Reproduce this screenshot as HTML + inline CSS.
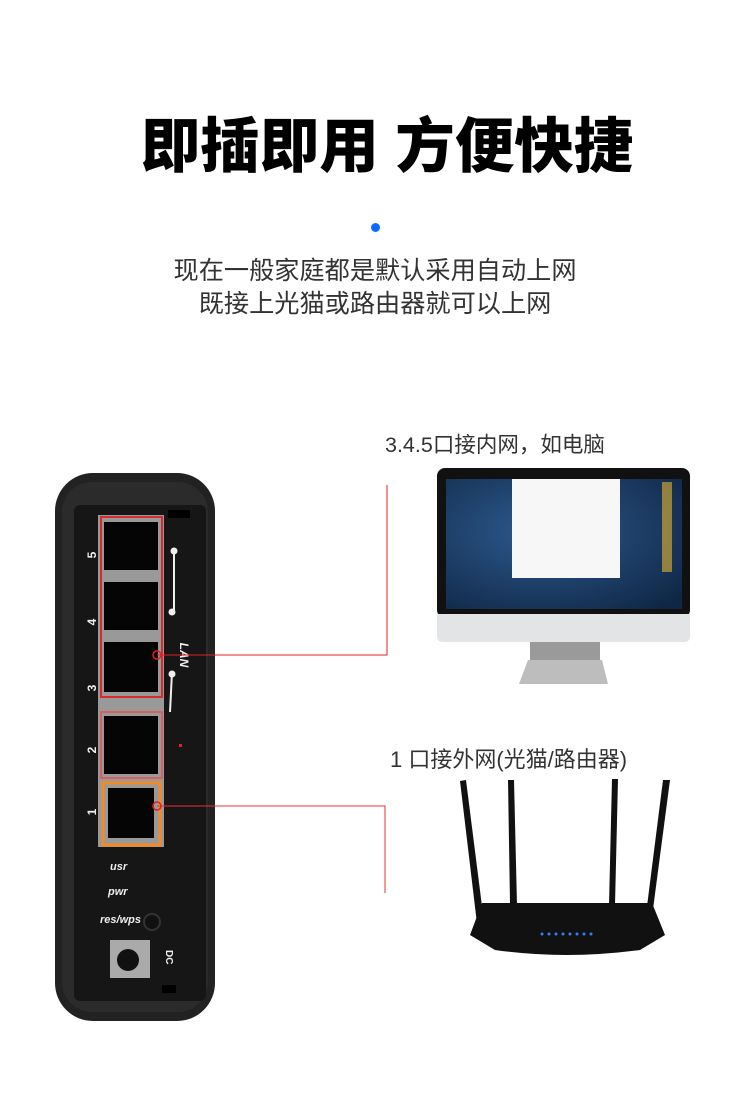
<!DOCTYPE html>
<html><head><meta charset="utf-8"><style>
body{margin:0;width:750px;height:1104px;background:#fff;position:relative;overflow:hidden;font-family:"Liberation Sans","Noto Sans CJK SC",sans-serif}
.a{position:absolute}
.t{white-space:nowrap}
</style></head><body>
<div class="a t" style="left:12px;width:750px;top:109px;text-align:center;font-size:59.5px;font-weight:900;color:#000;line-height:76px">即插即用 方便快捷</div>
<div class="a" style="left:371px;top:223px;width:9px;height:9px;border-radius:50%;background:#0a6cff"></div>
<div class="a t" style="left:0;width:750px;top:255px;text-align:center;font-size:25.2px;color:#333;line-height:33px">现在一般家庭都是默认采用自动上网<br>既接上光猫或路由器就可以上网</div>
<div class="a t" style="left:385px;top:428px;font-size:21.5px;color:#333">3.4.5口接内网，如电脑</div>
<div class="a t" style="left:390px;top:742px;font-size:22px;color:#333">1 口接外网(光猫/路由器)</div>

<svg class="a" style="left:0;top:0" width="750" height="1104">
<defs><radialGradient id="sc" cx="0.4" cy="0.4" r="0.8"><stop offset="0" stop-color="#2d5a8e"/><stop offset="1" stop-color="#0f2644"/></radialGradient></defs>
<rect x="55" y="473" width="160" height="548" rx="38" fill="#222"/>
<rect x="62" y="482" width="146" height="530" rx="30" fill="#2b2b2b"/>
<rect x="74" y="505" width="132" height="496" rx="6" fill="#161616"/>
<rect x="168" y="510" width="22" height="8" fill="#000"/>
<rect x="98" y="515" width="66" height="332" fill="#999"/>
<rect x="104" y="522" width="54" height="48" fill="#050505"/>
<rect x="104" y="582" width="54" height="48" fill="#050505"/>
<rect x="104" y="642" width="54" height="50" fill="#050505"/>
<rect x="104" y="716" width="54" height="58" fill="#050505"/>
<rect x="108" y="788" width="46" height="50" fill="#050505"/>
<rect x="101" y="517" width="61" height="180" fill="none" stroke="#d92b2b" stroke-width="2"/>
<rect x="101" y="712" width="61" height="66" fill="none" stroke="#d96060" stroke-width="2"/>
<rect x="103" y="783" width="57" height="62" fill="none" stroke="#f58a25" stroke-width="3"/>
<g fill="#eee" font-size="12" font-weight="bold" font-family="Liberation Sans">
<text transform="translate(96,555) rotate(-90)" text-anchor="middle">5</text>
<text transform="translate(96,622) rotate(-90)" text-anchor="middle">4</text>
<text transform="translate(96,688) rotate(-90)" text-anchor="middle">3</text>
<text transform="translate(96,750) rotate(-90)" text-anchor="middle">2</text>
<text transform="translate(96,812) rotate(-90)" text-anchor="middle">1</text>
<text transform="translate(180,655) rotate(90)" text-anchor="middle" font-style="italic">LAN</text>
<text x="110" y="870" font-size="11" font-style="italic">usr</text>
<text x="108" y="895" font-size="11" font-style="italic">pwr</text>
<text x="100" y="923" font-size="11" font-style="italic">res/wps</text>
<text transform="translate(166,950) rotate(90)" font-size="10">DC</text>
</g>
<line x1="174" y1="551" x2="174" y2="614" stroke="#eee" stroke-width="2"/>
<circle cx="174" cy="551" r="3.5" fill="#eee"/><circle cx="172" cy="612" r="3.5" fill="#eee"/>
<line x1="172" y1="672" x2="170" y2="712" stroke="#eee" stroke-width="2"/>
<circle cx="172" cy="674" r="3.5" fill="#eee"/>
<circle cx="152" cy="922" r="8" fill="#111" stroke="#333" stroke-width="2"/>
<rect x="110" y="940" width="40" height="38" fill="#aaa"/>
<circle cx="128" cy="960" r="11" fill="#111"/>
<rect x="162" y="985" width="14" height="8" fill="#000"/>
<polyline points="157,655 387,655 387,485" fill="none" stroke="#e02020" stroke-width="1"/>
<circle cx="157" cy="655" r="4" fill="none" stroke="#e02020" stroke-width="1.5"/>
<polyline points="157,806 385,806 385,893" fill="none" stroke="#e83030" stroke-width="1"/>
<circle cx="157" cy="806" r="4" fill="none" stroke="#e02020" stroke-width="1.5"/>
<rect x="179" y="744" width="3" height="3" fill="#e02020"/>
<rect x="437" y="468" width="253" height="150" rx="8" fill="#111"/>
<rect x="446" y="479" width="236" height="130" fill="url(#sc)"/>
<rect x="512" y="479" width="108" height="99" fill="#f7f7f7"/>
<rect x="662" y="482" width="10" height="90" fill="#e8b530" opacity="0.6"/>
<path d="M437 614 H690 V636 Q690 642 684 642 H443 Q437 642 437 636Z" fill="#e3e4e6"/>
<rect x="530" y="642" width="70" height="20" fill="#9a9a9a"/>
<path d="M528 660 H602 L608 684 H519Z" fill="#bdbdbd"/>
<g fill="#111">
<path d="M460 781 L466 780 L485 930 L478 932Z"/>
<path d="M508 780 L514 780 L517 905 L510 905Z"/>
<path d="M612 779 L618 779 L615 905 L609 905Z"/>
<path d="M663 780 L670 780 L650 932 L644 930Z"/>
<path d="M482 903 L652 903 L665 935 L640 950 Q565 960 495 950 L470 935Z"/>
</g>
<g fill="#3b7cff"><circle cx="542" cy="934" r="1.5"/><circle cx="549" cy="934" r="1.5"/><circle cx="556" cy="934" r="1.5"/><circle cx="563" cy="934" r="1.5"/><circle cx="570" cy="934" r="1.5"/><circle cx="577" cy="934" r="1.5"/><circle cx="584" cy="934" r="1.5"/><circle cx="591" cy="934" r="1.5"/></g>
</svg>
</body></html>
